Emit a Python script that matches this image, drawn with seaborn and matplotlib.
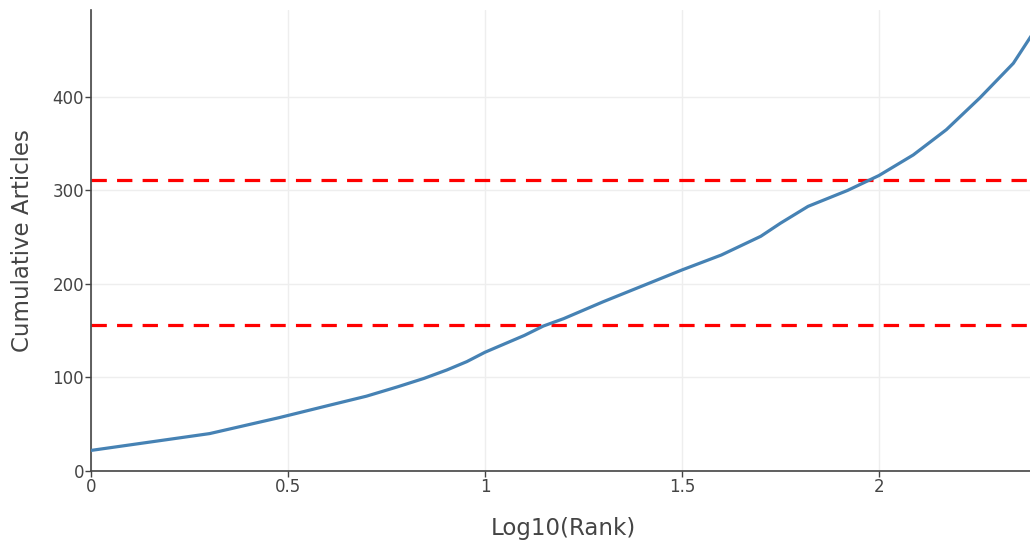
import matplotlib
matplotlib.use("Agg")
import matplotlib.pyplot as plt
import seaborn as sns
import pandas as pd

# Data
log_rank = [0.0, 0.301, 0.477, 0.602, 0.699, 0.778, 0.845, 0.903, 0.954, 1.0,
            1.1, 1.148, 1.2, 1.3, 1.4, 1.5, 1.6, 1.7, 1.75, 1.82, 1.92, 2.0,
            2.087, 2.171, 2.256, 2.341, 2.389]
cum_articles = [22, 40, 57, 70, 80, 90, 99, 108, 117, 127,
                145, 155, 163, 181, 198, 215, 231, 251, 265, 283, 300, 316,
                338, 365, 399, 436, 467]
zone_limits = [155.7, 311.3]
x_ticks = [0, 0.5, 1, 1.5, 2]
x_tick_labels = ["0", "0.5", "1", "1.5", "2"]
y_ticks = [0, 100, 200, 300, 400]

df = pd.DataFrame({"Log10(Rank)": log_rank, "Cumulative Articles": cum_articles})

sns.set_theme(style="white")
plt.rcParams["font.family"] = ["DejaVu Sans"]

fig = plt.figure(figsize=(10.3, 5.41), dpi=100)
ax = fig.add_axes([91 / 1030, 70 / 541, 944 / 1030, 461 / 541])

for yv in zone_limits:
    ax.axhline(yv, color="#ff0000", lw=2.3, dashes=(4.8, 3.2), zorder=2)

sns.lineplot(data=df, x="Log10(Rank)", y="Cumulative Articles", ax=ax,
             color="#4682b4", lw=2.3, zorder=3)

ax.set_xlim(0, 2.396)
ax.set_ylim(0, 493)
ax.set_xticks(x_ticks)
ax.set_xticklabels(x_tick_labels)
ax.set_yticks(y_ticks)

ax.grid(True, color="#eeeeee", lw=1.0)
ax.set_axisbelow(True)
for s in ["top", "right"]:
    ax.spines[s].set_visible(False)
for s in ["left", "bottom"]:
    ax.spines[s].set_color("#444444")
    ax.spines[s].set_linewidth(1.2)

ax.tick_params(axis="both", which="both", length=4, width=1, color="#444444",
               labelcolor="#444444", labelsize=12, pad=1,
               bottom=True, left=True)

ax.set_xlabel("Log10(Rank)", fontsize=16.5, color="#444444", labelpad=15)
ax.set_ylabel("Cumulative Articles", fontsize=16.5, color="#444444", labelpad=13)

fig.savefig("out.png", dpi=100)
